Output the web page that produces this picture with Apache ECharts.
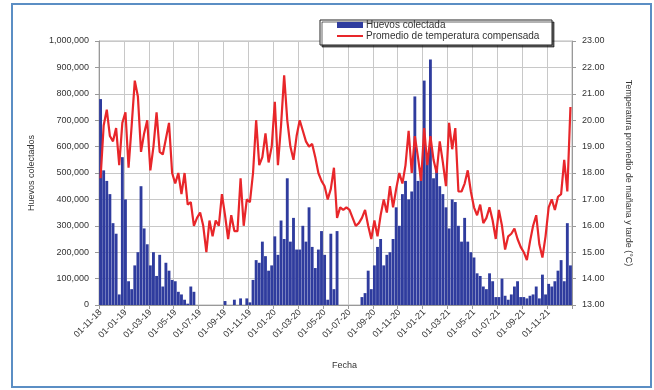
<!DOCTYPE html>
<html>
<head>
<meta charset="utf-8">
<script src="https://cdn.jsdelivr.net/npm/echarts@6/dist/echarts.min.js"></script>
<style>
html,body{margin:0;padding:0;background:#fff;}
#chart{width:654px;height:390px;}
</style>
</head>
<body>
<div id="chart"></div>
<script>
// Months covered (Nov 2018 .. Dec 2021), four readings per month
var monthList = ['11-18','12-18','01-19','02-19','03-19','04-19','05-19','06-19','07-19','08-19','09-19','10-19',
  '11-19','12-19','01-20','02-20','03-20','04-20','05-20','06-20','07-20','08-20','09-20','10-20',
  '11-20','12-20','01-21','02-21','03-21','04-21','05-21','06-21','07-21','08-21','09-21','10-21',
  '11-21','12-21'];
var dayList = ['01','08','15','22'];

// Huevos colectados
var eggs = [
  780000, 510000, 470000, 420000,
  310000, 270000, 40000, 560000,
  400000, 90000, 60000, 150000,
  200000, 450000, 290000, 230000,
  150000, 200000, 110000, 190000,
  70000, 160000, 130000, 95000,
  90000, 50000, 40000, 20000,
  5000, 70000, 50000, 0,
  0, 0, 0, 0,
  0, 0, 0, 0,
  15000, 0, 0, 20000,
  0, 25000, 0, 25000,
  10000, 95000, 170000, 160000,
  240000, 185000, 130000, 150000,
  260000, 190000, 320000, 250000,
  480000, 240000, 330000, 210000,
  210000, 300000, 240000, 370000,
  220000, 140000, 210000, 280000,
  190000, 20000, 270000, 60000,
  280000, 0, 0, 0,
  0, 0, 0, 0,
  30000, 45000, 130000, 60000,
  150000, 220000, 250000, 150000,
  190000, 200000, 250000, 370000,
  300000, 420000, 470000, 400000,
  430000, 790000, 470000, 520000,
  850000, 560000, 930000, 480000,
  520000, 450000, 420000, 370000,
  290000, 400000, 390000, 300000,
  240000, 330000, 240000, 200000,
  180000, 120000, 110000, 70000,
  60000, 120000, 90000, 30000,
  30000, 100000, 35000, 20000,
  40000, 70000, 90000, 30000,
  30000, 25000, 35000, 40000,
  70000, 25000, 115000, 40000,
  80000, 70000, 90000, 130000,
  170000, 90000, 310000, 150000
];

// Promedio de temperatura compensada (°C)
var temps = [
  17.8, 19.8, 20.4, 19.4,
  19.2, 19.7, 18.3, 19.9,
  20.3, 18.2, 19.8, 21.5,
  20.9, 18.8, 19.5, 20.0,
  18.1, 19.0, 20.3, 18.8,
  18.7, 19.3, 19.9, 18.0,
  17.6, 18.0, 17.2, 18.0,
  16.8, 16.9, 16.0, 16.3,
  16.5, 16.0, 15.0, 16.2,
  15.6, 16.2, 16.0, 17.2,
  16.4, 15.5, 16.4, 15.8,
  15.8, 17.8, 16.0, 17.0,
  16.9, 18.0, 20.0, 18.3,
  18.6, 19.5, 18.4, 19.0,
  20.7, 18.3, 19.8, 21.7,
  20.0, 19.0, 18.5, 19.4,
  20.0, 19.6, 19.2, 19.0,
  19.1, 18.6, 18.0, 17.7,
  17.5, 17.0, 17.4, 18.2,
  16.3, 16.7, 16.6, 16.7,
  16.6, 16.3, 16.0, 16.1,
  16.3, 16.6, 16.0, 15.5,
  16.2, 15.6, 16.4, 17.0,
  16.5, 17.5, 16.7, 17.4,
  18.0, 17.6, 18.3, 19.6,
  18.0, 19.4, 18.6, 17.7,
  19.7, 18.3, 19.4, 18.5,
  18.0, 19.2, 18.4, 17.5,
  19.9, 18.9, 19.7, 17.3,
  17.3, 17.6, 18.1, 17.3,
  16.7, 16.4, 16.8, 16.1,
  16.3, 16.7, 16.2, 15.5,
  16.6, 16.0, 15.1, 15.6,
  15.7, 15.9, 15.5, 15.2,
  15.0, 14.7, 15.4, 16.0,
  16.4, 15.3, 14.8, 15.6,
  16.7, 17.0, 16.6, 17.1,
  17.2, 18.5, 17.3, 20.5
];

var seriesNames = ['Huevos colectada', 'Promedio de temperatura compensada'];
var leftAxisTitle = 'Huevos colectados';
var rightAxisTitle = 'Temperatura promedio de mañana y tarde (°C)';
var xAxisTitle = 'Fecha';

var dates = [];
monthList.forEach(function(m){ dayList.forEach(function(d){ dates.push(d + '-' + m); }); });

var FONT = 'Liberation Sans, Arial, sans-serif';
var chart = echarts.init(document.getElementById('chart'), null, {renderer:'canvas'});

function fmtThousands(v){
  return String(Math.round(v)).replace(/\B(?=(\d{3})+(?!\d))/g, ',');
}

chart.setOption({
  animation: false,
  backgroundColor: '#ffffff',
  textStyle: {fontFamily: FONT},
  grid: {left: 99, right: 82, top: 41, bottom: 85, show: true, borderColor: '#b8b8b8', borderWidth: 1, containLabel: false},
  graphic: [
    {type:'rect', z: 100, silent: true, shape:{x:12, y:4, width:639, height:383},
     style:{fill:'none', stroke:'#5b8ec4', lineWidth:2}},
    {type:'rect', z: 50, silent: true, shape:{x:320, y:20, width:232, height:25},
     style:{fill:'#ffffff', stroke:'#222', lineWidth:1, shadowColor:'rgba(0,0,0,0.6)', shadowOffsetX:2, shadowOffsetY:2, shadowBlur:0}}
  ],
  legend: {
    z: 60,
    orient: 'vertical',
    left: 336, top: 20,
    padding: 0,
    itemGap: 1,
    itemWidth: 26, itemHeight: 6,
    textStyle: {fontSize: 10, color: '#333', fontFamily: FONT, padding:[0,0,0,-2]},
    data: [
      {name: seriesNames[0], icon: 'rect'},
      {name: seriesNames[1], itemStyle: {opacity: 0}}
    ]
  },
  xAxis: {
    type: 'category',
    data: dates,
    boundaryGap: true,
    name: xAxisTitle,
    nameLocation: 'middle',
    nameGap: 56,
    nameTextStyle: {fontSize: 9, color: '#333', padding:[0,0,0,18]},
    axisLine: {lineStyle: {color: '#999'}},
    axisTick: {show: true, interval: 7, length: 4, lineStyle: {color: '#999'}},
    axisLabel: {interval: 7, rotate: 45, fontSize: 9, color: '#333', margin: 6},
    splitLine: {show: true, interval: 7, lineStyle: {color: '#c8c8c8', width: 1}}
  },
  yAxis: [
    {
      type: 'value', min: 0, max: 1000000, interval: 100000,
      name: leftAxisTitle, nameLocation: 'middle', nameGap: 63, nameRotate: 90,
      nameTextStyle: {fontSize: 9, color: '#333'},
      axisLine: {show: true, lineStyle: {color: '#999'}},
      axisTick: {show: true, length: 4, lineStyle: {color: '#999'}},
      axisLabel: {fontSize: 9, color: '#333', margin: 10, formatter: fmtThousands},
      splitLine: {show: true, lineStyle: {color: '#c8c8c8', width: 1}}
    },
    {
      type: 'value', min: 13, max: 23, interval: 1,
      name: rightAxisTitle, nameLocation: 'middle', nameGap: 52, nameRotate: -90,
      nameTextStyle: {fontSize: 9, color: '#333'},
      axisLine: {show: true, lineStyle: {color: '#999'}},
      axisTick: {show: true, length: 4, lineStyle: {color: '#999'}},
      axisLabel: {fontSize: 9, color: '#333', margin: 10, formatter: function(v){ return v.toFixed(2); }},
      splitLine: {show: false}
    }
  ],
  series: [
    {
      name: seriesNames[0], type: 'bar', yAxisIndex: 0, data: eggs,
      barCategoryGap: '8%',
      itemStyle: {color: '#2f3c9e'}
    },
    {
      name: seriesNames[1], type: 'line', yAxisIndex: 1, data: temps,
      symbol: 'none', smooth: false,
      lineStyle: {color: '#e8262a', width: 2.2},
      itemStyle: {color: '#e8262a'}
    }
  ]
});
</script>
</body>
</html>
